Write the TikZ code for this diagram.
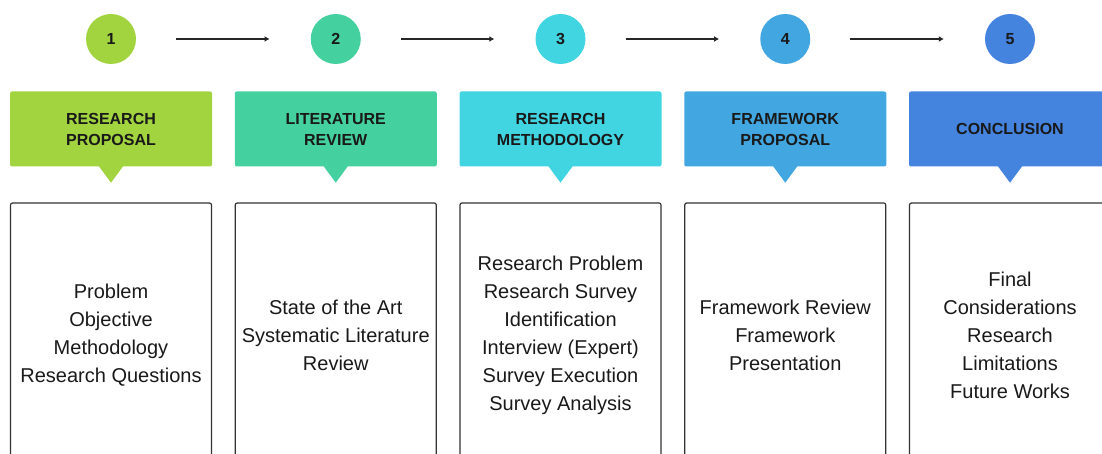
\documentclass[tikz,border=0pt]{standalone}
\usepackage{fontspec}
\setmainfont{Liberation Sans}
\usetikzlibrary{positioning,arrows.meta}
\definecolor{stepA}{HTML}{A2D43F}
\definecolor{stepB}{HTML}{45D0A0}
\definecolor{stepC}{HTML}{41D4E1}
\definecolor{stepD}{HTML}{42A6E1}
\definecolor{stepE}{HTML}{4483DE}

\begin{document}
\begin{tikzpicture}[x=1pt,y=-1pt,
  every node/.style={font=\fontsize{20}{28}\selectfont, text=black!90},
  num/.style={circle, minimum size=50pt, inner sep=0pt, font=\fontsize{16}{20}\selectfont\bfseries},
  head/.style={rectangle, rounded corners=2pt, minimum width=202pt, minimum height=75pt,
    inner sep=0pt, align=center, font=\fontsize{16}{21}\selectfont\bfseries},
  body/.style={draw=black!80, line width=1.2pt, rounded corners=2pt, minimum width=201pt,
    minimum height=264pt, inner sep=0pt, align=center},
  flow/.style={-{Latex[length=5pt,width=6pt]}, line width=1.3pt, black!85,
    shorten <=40pt, shorten >=41pt}]
\useasboundingbox (0,0) rectangle (1102,454);
\clip (0,0) rectangle (1102,454);
\foreach \i/\col/\hd/\txt in {%
  1/stepA/{RESEARCH\\PROPOSAL}/{Problem\\Objective\\Methodology\\Research Questions},%
  2/stepB/{LITERATURE\\REVIEW}/{State of the Art\\Systematic Literature\\Review},%
  3/stepC/{RESEARCH\\METHODOLOGY}/{Research Problem\\Research Survey\\Identification\\Interview (Expert)\\Survey Execution\\Survey Analysis},%
  4/stepD/{FRAMEWORK\\PROPOSAL}/{Framework Review\\Framework\\Presentation},%
  5/stepE/{CONCLUSION}/{Final\\Considerations\\Research\\Limitations\\Future Works}%
} {
  \pgfmathsetmacro{\cx}{111+(\i-1)*224.75}
  \node[num, fill=\col] (c\i) at (\cx,39) {\i};
  \node[head, fill=\col] (h\i) at (\cx,129) {\hd};
  % pointer under the heading
  \fill[\col] ([xshift=-12.5pt,yshift=1pt]h\i.south) -- ([xshift=12.5pt,yshift=1pt]h\i.south)
    -- ([yshift=-16pt]h\i.south) -- cycle;
  \node[body] (b\i) at (\cx,335) {\txt};
}
\foreach \i [count=\j from 2] in {1,...,4}
  \draw[flow] (c\i) -- (c\j);
\end{tikzpicture}
\end{document}
